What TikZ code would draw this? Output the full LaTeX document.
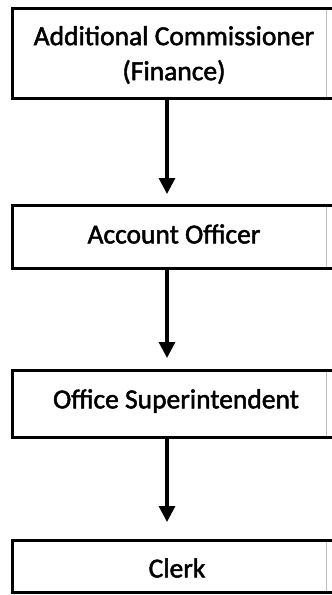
\documentclass[tikz,border=0pt]{standalone}
\usepackage{fontspec}
\setmainfont{Carlito}
\newfontfamily\lblfont{Carlito}[FakeBold=1.8]
\usetikzlibrary{arrows.meta}
\tikzset{
  boxarea/.style={draw=none, inner sep=0pt, anchor=north west},
  boxline/.style={line width=3pt, line cap=rect},
  faintline/.style={line width=0.6pt, draw=black!25},
  lbl/.style={font=\lblfont\fontsize{27.5}{35}\selectfont, align=center, inner sep=0pt},
  conn/.style={line width=3.2pt, -{Triangle[length=16pt,width=16pt]}, shorten >=-1pt}
}
\begin{document}
\begin{tikzpicture}[x=1pt,y=-1pt]
\useasboundingbox[fill=white] (0,0) rectangle (332,595);
% boxes (areas)
\node[boxarea, minimum width=314pt, minimum height=90pt] (b1) at (12,8) {};
\node[boxarea, minimum width=314pt, minimum height=63pt] (b2) at (12,205) {};
\node[boxarea, minimum width=314pt, minimum height=67pt] (b3) at (12,370) {};
\node[boxarea, minimum width=314pt, minimum height=52pt] (b4) at (12,540) {};
\foreach \b in {b1,b2,b3,b4}{
  \draw[faintline] (\b.north east) -- (\b.south east);
  \draw[boxline] ([xshift=8pt]\b.north east) -- (\b.north west) -- (\b.south west) -- ([xshift=8pt]\b.south east);
}
% texts
\node[lbl] (t1) at (174,55) {Additional Commissioner\\(Finance)};
\node[lbl] (t2) at (174,234) {Account Officer};
\node[lbl] (t3) at (176,401) {Office Superintendent};
\node[lbl] (t4) at (177,568) {Clerk};
% connectors
\coordinate (a1) at (167,98);
\coordinate (e1) at (167,193);
\coordinate (a2) at (167,268);
\coordinate (e2) at (167,357);
\coordinate (a3) at (167,437);
\coordinate (e3) at (167,521);
\draw[conn] (a1) -- (e1);
\draw[conn] (a2) -- (e2);
\draw[conn] (a3) -- (e3);
\end{tikzpicture}
\end{document}
